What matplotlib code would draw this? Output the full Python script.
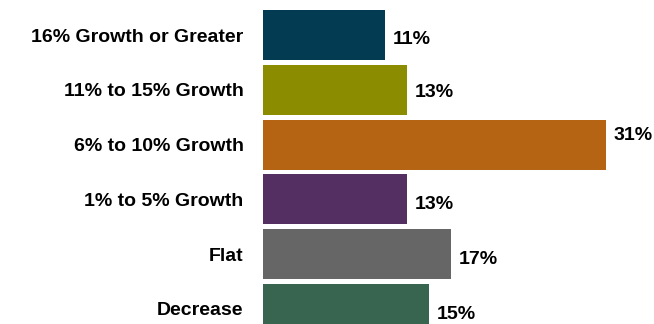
import matplotlib
matplotlib.use("Agg")
import matplotlib.pyplot as plt

categories = [
    "16% Growth or Greater",
    "11% to 15% Growth",
    "6% to 10% Growth",
    "1% to 5% Growth",
    "Flat",
    "Decrease",
]
values = [11, 13, 31, 13, 17, 15]
value_labels = ["11%", "13%", "31%", "13%", "17%", "15%"]
colors = ["#033c52", "#8c8c00", "#b56413", "#532f62", "#666666", "#386550"]

family = ["Liberation Sans", "DejaVu Sans"]

DPI = 100
fig = plt.figure(figsize=(6.54, 3.24), dpi=DPI)
ax = fig.add_axes([263 / 654, 0.0, 386.75 / 654, 1.0])

ypos = list(range(len(categories)))
ax.barh(ypos, values, height=0.912, color=colors)

ax.set_xlim(0, 35)
ax.set_ylim(5.274, -0.639)
ax.set_yticks(ypos)
ax.set_yticklabels(categories, family=family, fontweight="bold", fontsize=14)
ax.tick_params(axis="y", length=0, pad=14)
ax.set_xticks([])
for s in ax.spines.values():
    s.set_visible(False)

# vertical nudge of each value label, in points
nudges = [-3.5, -2, 6.5, -3.5, -4, -4]
for y, v, lab, dy in zip(ypos, values, value_labels, nudges):
    ax.annotate(lab, xy=(v, y), xytext=(6, dy), textcoords="offset points",
                ha="left", va="center", family=family, fontweight="bold",
                fontsize=14, annotation_clip=False)

fig.savefig("out.png", dpi=DPI)
